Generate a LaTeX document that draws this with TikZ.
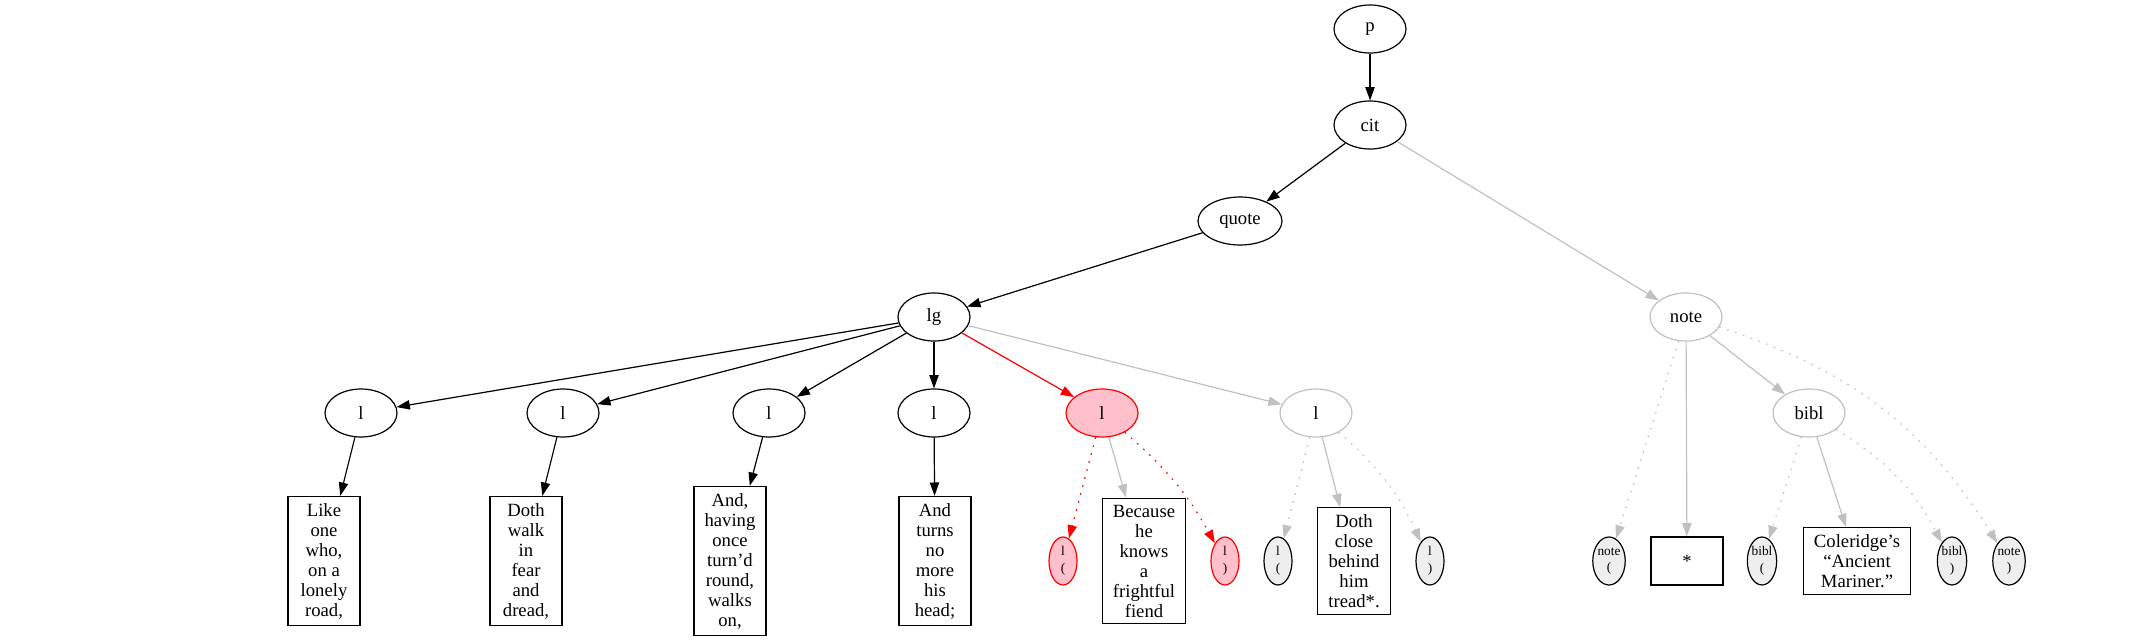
\documentclass[tikz,border=0pt]{standalone}
\usepackage{fontspec}
\setmainfont{Liberation Serif}
\usepackage{tikz}
\usetikzlibrary{shapes.geometric,arrows.meta}
\definecolor{silver}{RGB}{192,192,192}
\definecolor{rose}{RGB}{255,192,203}
\definecolor{paper}{RGB}{238,238,238}
\newcommand{\hicolor}{red}
\newcommand{\offcolor}{silver}
\newcommand{\lw}{0.9pt}

\begin{document}
\begin{tikzpicture}[x=0.75pt,y=0.75pt,
elem/.style={draw,ellipse,line width=\lw,minimum width=54pt,minimum height=36pt,inner sep=0pt,font=\fontsize{14}{15}\selectfont},
halfnode/.style={draw,ellipse,line width=\lw,minimum width=21pt,minimum height=36pt,inner sep=0pt,align=center,font=\fontsize{10}{12.5}\selectfont},
txt/.style={draw,rectangle,line width=\lw,align=center,inner xsep=8pt,inner ysep=5pt,minimum width=54pt,minimum height=36pt,font=\fontsize{14}{15}\selectfont},
arr/.style={-{Triangle[length=10pt,width=7pt]},line width=\lw},
dots/.style={arr,dash pattern=on 1.2pt off 5pt}]
\useasboundingbox (0,0) rectangle (2139,-643);
%ranks
\node[elem] (1) at (1370, -29) {p};
\node[elem] (2) at (1370, -125) {cit};
\node[elem] (3) at (1240, -221) [minimum width=63pt] {quote};
\node[elem] (4) at (934, -317) {lg};
\node[elem] (5) at (1686, -317) [draw=\offcolor] {note};
\node[elem] (6) at (361, -413) {l};
\node[elem] (7) at (563, -413) {l};
\node[elem] (8) at (769, -413) {l};
\node[elem] (9) at (934, -413) {l};
\node[elem] (10) at (1102, -413) [draw=\hicolor,fill=rose] {l};
\node[elem] (11) at (1316, -413) [draw=\offcolor] {l};
\node[elem] (12) at (1809, -413) [draw=\offcolor] {bibl};
%leaves
\node[txt] (13) at (324, -561) {Like\\one\\who,\\on a\\lonely\\road,};
\node[txt] (14) at (526, -561) {Doth\\walk\\in\\fear\\and\\dread,};
\node[txt] (15) at (730, -561) {And,\\having\\once\\turn’d\\round,\\walks\\on,};
\node[txt] (16) at (935, -561) {And\\turns\\no\\more\\his\\head;};
\node[halfnode] (17) at (1063, -561) [draw=\hicolor,fill=rose] {l\\(};
\node[txt] (18) at (1144, -561) {Because\\he\\knows\\a\\frightful\\fiend};
\node[halfnode] (19) at (1225, -561) [draw=\hicolor,fill=rose] {l\\)};
\node[halfnode] (20) at (1278, -561) [fill=paper] {l\\(};
\node[txt] (21) at (1354, -561) {Doth\\close\\behind\\him\\tread*.};
\node[halfnode] (22) at (1430, -561) [fill=paper] {l\\)};
\node[halfnode] (23) at (1609, -561) [fill=paper] {note\\(};
\node[txt] (24) at (1687, -561) {*};
\node[halfnode] (25) at (1762, -561) [fill=paper] {bibl\\(};
\node[txt] (26) at (1857, -561) {Coleridge’s\\“Ancient\\Mariner.”};
\node[halfnode] (27) at (1952, -561) [fill=paper] {bibl\\)};
\node[halfnode] (28) at (2009, -561) [fill=paper] {note\\)};
%p cit quote lg
\draw[black] [arr] (1) -- (2);
\draw[black] [arr] (2) -- (3);
\draw[\offcolor] [arr] (2) -- (5);
\draw[black] [arr] (3) -- (4);
%lg
\draw[black] [arr] (4) -- (6);
\draw[black] [arr] (4) -- (7);
\draw[black] [arr] (4) -- (8);
\draw[black] [arr] (4) -- (9);
\draw[\hicolor] [arr] (4) -- (10);
\draw[\offcolor] [arr] (4) -- (11);
%l
\draw[black] [arr] (6) -- (13);
\draw[black] [arr] (7) -- (14);
\draw[black] [arr] (8) -- (15);
\draw[black] [arr] (9) -- (16);
\draw[\hicolor] [dots] (10) -- (17);
\draw[\offcolor] [arr] (10) -- (18);
\draw[\hicolor] [dots] (10) to[bend left=10] (19);
\draw[\offcolor] [dots] (11) -- (20);
\draw[\offcolor] [arr] (11) -- (21);
\draw[\offcolor] [dots] (11) to[bend left=12] (22);
%note bibl
\draw[\offcolor] [dots] (5) -- (23);
\draw[\offcolor] [arr] (5) -- (24);
\draw[\offcolor] [arr] (5) -- (12);
\draw[\offcolor] [dots] (5) to[bend left=20] (28);
\draw[\offcolor] [dots] (12) -- (25);
\draw[\offcolor] [arr] (12) -- (26);
\draw[\offcolor] [dots] (12) to[bend left=15] (27);
\end{tikzpicture}
\end{document}
